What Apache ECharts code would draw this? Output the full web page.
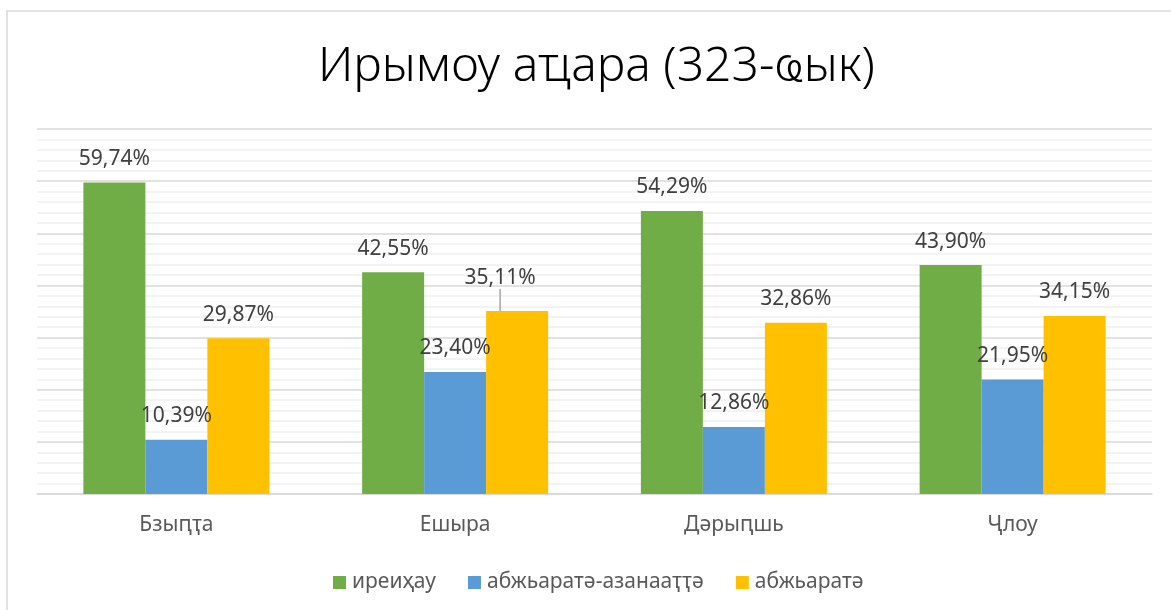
<!DOCTYPE html>
<html>
<head>
  <meta charset="UTF-8">
  <script src="https://cdn.jsdelivr.net/npm/echarts@6/dist/echarts.min.js"></script>
  <style>
    html, body { margin: 0; padding: 0; background: #fff; }
    #chart { width: 1171px; height: 610px; }
  </style>
</head>
<body>
  <div id="chart"></div>
  <script>
    var categories = ['Бзыԥҭа', 'Ешыра', 'Дәрыԥшь', 'Ҷлоу'];
    var seriesNames = ['иреиҳау', 'абжьаратә-азанааҭҭә', 'абжьаратә'];
    var highest = [59.74, 42.55, 54.29, 43.90];
    var middleLower = [10.39, 23.40, 12.86, 21.95];
    var middle = [29.87, 35.11, 32.86, 34.15];
    var colors = ['#70AD47', '#5B9BD5', '#FFC000'];

    var font = '"Noto Sans", "DejaVu Sans", sans-serif';

    function pct(p) {
      return p.value.toFixed(2).replace('.', ',') + '%';
    }

    function makeSeries(name, data, color, moved) {
      var s = {
        name: name,
        type: 'bar',
        data: data.map(function (v, i) {
          // the one label that was dragged away gets a leader line
          return i === moved ? { value: v, labelLine: { show: true } } : v;
        }),
        barWidth: 62,
        barGap: '0%',
        itemStyle: { color: color },
        label: {
          show: true,
          position: 'top',
          distance: 13,
          formatter: pct,
          color: '#404040',
          fontSize: 21,
          fontFamily: font
        },
        labelLine: { show: false, lineStyle: { color: '#a6a6a6', width: 1.5 } }
      };
      if (moved != null) {
        s.labelLayout = function (params) {
          if (params.dataIndex === moved) return { dx: -17, dy: -9 };
          return {};
        };
      }
      return s;
    }

    var chart = echarts.init(document.getElementById('chart'));
    chart.setOption({
      backgroundColor: '#fff',
      animation: false,
      title: {
        text: 'Ирымоу аҵара (323-ҩык)',
        left: 313,
        top: 38,
        textStyle: { fontFamily: font, fontSize: 48, fontWeight: 300, color: '#000' }
      },
      graphic: [{
        type: 'rect',
        shape: { x: 7, y: 11, width: 1250, height: 700 },
        style: { fill: 'none', stroke: '#d9d9d9', lineWidth: 1.5 },
        silent: true
      }],
      legend: {
        top: 567,
        left: 328,
        itemWidth: 13,
        itemHeight: 13,
        itemGap: 32,
        icon: 'rect',
        textStyle: { fontFamily: font, fontSize: 21, color: '#595959', padding: [0, 0, 0, 1] },
        data: seriesNames
      },
      grid: { left: 37, right: 19, top: 129, bottom: 116 },
      xAxis: {
        type: 'category',
        data: categories,
        axisLine: { lineStyle: { color: '#d9d9d9', width: 1.5 } },
        axisTick: { show: false },
        axisLabel: { fontFamily: font, fontSize: 21, color: '#595959', margin: 21 }
      },
      yAxis: {
        type: 'value',
        min: 0,
        max: 70,
        interval: 10,
        axisLabel: { show: false },
        axisLine: { show: false },
        splitLine: { lineStyle: { color: '#d9d9d9', width: 1.5 } },
        minorTick: { show: false, splitNumber: 5 },
        minorSplitLine: { show: true, lineStyle: { color: '#f0f0f0', width: 1.5 } }
      },
      series: [
        makeSeries(seriesNames[0], highest, colors[0]),
        makeSeries(seriesNames[1], middleLower, colors[1]),
        makeSeries(seriesNames[2], middle, colors[2], 1)
      ]
    });
  </script>
</body>
</html>
